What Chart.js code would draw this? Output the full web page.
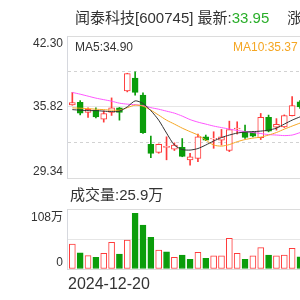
<!DOCTYPE html>
<html><head><meta charset="utf-8">
<script src="https://cdn.jsdelivr.net/npm/chart.js@4.4.1/dist/chart.umd.min.js"></script>
<style>
html,body{margin:0;padding:0;width:300px;height:300px;overflow:hidden;background:#fff;}
#wrap{position:relative;width:300px;height:300px;overflow:hidden;font-family:"Liberation Sans","Noto Sans CJK SC",sans-serif;color:#333;}
canvas{position:absolute;left:0;}
.t{position:absolute;white-space:nowrap;line-height:1;}
</style></head><body>
<div id="wrap">
<canvas id="pc" width="340" height="190" style="top:0"></canvas>
<canvas id="vc" width="340" height="100" style="top:180px"></canvas>
<div class="t" style="left:75px;top:10px;font-size:15px">闻泰科技[600745] 最新:<span style="color:#2aae2a">33.95</span><span style="margin-left:18px">涨跌:-0.34</span></div>
<div class="t" style="left:75px;top:41px;font-size:12px">MA5:34.90</div>
<div class="t" style="left:233px;top:41px;font-size:12px;color:#f5a623">MA10:35.37</div>
<div class="t" style="left:315px;top:41px;font-size:12px;color:#ff55ff">MA20:34.21</div>
<div class="t" style="left:70px;top:187px;font-size:15px">成交量:25.9万</div>
<div class="t" style="left:68px;top:276px;font-size:16px">2024-12-20</div>
</div>
<script>
// ---- data ----
const firstDate = '2024-12-20';
const open  = [36.02,36.25,35.32,35.53,34.71,35.32,35.74,37.28,38.45,36.90,32.41,31.68,32.14,31.98,32.14,30.98,31.13,33.10,32.90,32.80,31.85,33.82,33.56,33.52,33.01,34.87,33.98,34.01,35.03,36.29];
const close = [36.23,35.25,35.60,34.92,35.23,35.74,35.32,38.87,37.15,33.47,31.59,32.41,32.23,32.34,31.32,31.28,33.10,32.80,32.97,33.10,33.76,33.89,33.05,33.15,34.87,33.62,34.23,35.03,35.94,35.83];
const high  = [37.15,36.40,35.74,35.74,35.47,36.65,35.78,38.90,39.02,37.11,33.16,32.45,33.10,32.55,32.94,31.59,33.35,33.26,33.56,33.77,34.53,34.47,34.17,33.60,35.23,35.08,34.76,35.10,36.76,36.40];
const low   = [35.98,35.10,34.87,34.83,34.44,35.05,34.62,37.20,36.90,33.40,31.19,31.60,31.00,31.85,31.28,30.52,30.82,32.75,32.05,32.35,31.75,33.35,32.96,33.10,32.85,33.55,33.71,33.95,35.00,35.70];
const ma5   = [35.58,35.53,35.49,35.49,35.44,35.40,35.44,35.83,36.38,36.14,35.49,34.62,33.44,32.35,31.94,31.89,32.03,32.35,32.71,33.03,33.26,33.44,33.53,33.57,33.62,33.71,33.89,34.26,34.62,34.92];
const ma10  = [35.74,35.71,35.67,35.62,35.58,35.53,35.53,35.76,35.99,35.90,35.53,35.08,34.62,34.26,33.89,33.57,33.26,32.80,32.35,32.25,32.39,32.65,32.85,32.98,33.07,33.26,33.49,33.80,34.08,34.35];
const ma20  = [37.15,36.99,36.81,36.63,36.49,36.35,36.17,36.08,36.03,35.94,35.76,35.62,35.44,35.26,34.99,34.67,34.44,34.26,34.08,33.94,33.81,33.67,33.58,33.49,33.40,33.30,33.26,33.21,33.26,33.48];
const volume = [45,29,24,21,28,48,27,52,100,79,57,34,31,21,25,17.5,30,19,23.5,23.5,55,28,17.5,23.5,38.5,25,23.5,25,37,22]; // 万
const priceTicks = [29.34,32.58,35.82,39.06,42.30];
const priceTickLabels = ['29.34','','35.82','','42.30'];
const volTicks = [0,54,108];
const volTickLabels = ['0','','108万'];

// ---- styling ----
const RED = '#ff3b3b', GREEN = '#0b9d0b';
const FONT = '"Liberation Sans","Noto Sans CJK SC",sans-serif';
const AXIS_W = 67, BAR_PX = 7.85, X_MIN = -0.68;
const up = close.map((c,i)=>c>=open[i]);
const volUp = close.map((c,i)=> i===0 ? c>=open[0] : c>=close[i-1]);

function xScale(canvasW){
  return {type:'linear', display:false, offset:false, min:X_MIN, max:X_MIN+(canvasW-AXIS_W)/BAR_PX};
}
function yAxis(ticks, labels, min, max, topShift, bottomShift){
  const n = ticks.length;
  const idx = v => ticks.findIndex(t=>Math.abs(t-v)<1e-6);
  return {
    type:'linear', position:'left', min, max,
    afterBuildTicks: s => { s.ticks = ticks.map(v=>({value:v})); },
    afterFit: s => { s.width = AXIS_W; s.paddingTop = 0; s.paddingBottom = 0; },
    ticks:{
      autoSkip:false, padding:4, color:'#333',
      font: c => { const i = c.tick ? idx(c.tick.value) : 1;
        const lh = i===n-1 ? topShift*2 : (i===0 ? bottomShift*2 : 14);
        return {size:12, family:FONT, lineHeight: lh+'px'}; },
      callback: v => { const i = idx(v); const l = labels[i] || '';
        if (l==='') return '';
        if (i===n-1) return ['', l];
        if (i===0) return [l, ''];
        return l; }
    },
    grid:{ drawTicks:false, lineWidth:1,
      color: c => { if(!c.tick) return '#ddd'; const i = idx(c.tick.value);
        return (i===0||i===n-1) ? '#dcdcdc' : (i===(n-1)/2 ? '#e6e6e6' : '#d2d2d2'); } },
    border:{ display:true, color:'#d6d8de', width:1,
      dash: c => { if(!c.tick) return []; const i = idx(c.tick.value);
        return (i===0||i===n-1||i===(n-1)/2) ? [] : [3,3]; } }
  };
}

const pts = arr => arr.map((v,i)=>({x:i, y:v}));
const lineDs = (arr, color) => ({type:'line', data:pts(arr), borderColor:color, borderWidth:1, pointRadius:0, tension:0.25, order:0});

new Chart(document.getElementById('pc'), {
  type:'bar',
  data:{ datasets:[
    lineDs(ma5,'#333333'),
    lineDs(ma10,'#f5a623'),
    lineDs(ma20,'#ff55ff'),
    {type:'bar', grouped:false, order:1, barThickness:6, borderWidth:1, borderSkipped:false,
     data: open.map((o,i)=>({x:i, y:[o, close[i]]})),
     backgroundColor: up.map(u=>u?'#ffffff':GREEN),
     borderColor: up.map(u=>u?RED:GREEN)},
    {type:'bar', grouped:false, order:2, barThickness:1, borderWidth:0,
     data: low.map((l,i)=>({x:i, y:[l, high[i]]})),
     backgroundColor: up.map(u=>u?RED:GREEN)}
  ]},
  options:{
    responsive:false, animation:false, events:[],
    layout:{padding:{top:36, bottom:12, left:0, right:0}},
    plugins:{legend:{display:false}, tooltip:{enabled:false}},
    scales:{ x:xScale(340), y:yAxis(priceTicks, priceTickLabels, priceTicks[0], priceTicks[priceTicks.length-1], 7.5, 6.3) }
  }
});

new Chart(document.getElementById('vc'), {
  type:'bar',
  data:{ datasets:[
    {grouped:false, barThickness:6, borderWidth:1, borderSkipped:false,
     data: volume.map((v,i)=>({x:i, y:v})),
     backgroundColor: volUp.map(u=>u?'#ffffff':GREEN),
     borderColor: volUp.map(u=>u?RED:GREEN)}
  ]},
  options:{
    responsive:false, animation:false, events:[],
    layout:{padding:{top:29, bottom:11, left:0, right:0}},
    plugins:{legend:{display:false}, tooltip:{enabled:false}},
    scales:{ x:xScale(340), y:yAxis(volTicks, volTickLabels, volTicks[0], volTicks[volTicks.length-1], 9, 6.3) }
  }
});
</script>
</body></html>
